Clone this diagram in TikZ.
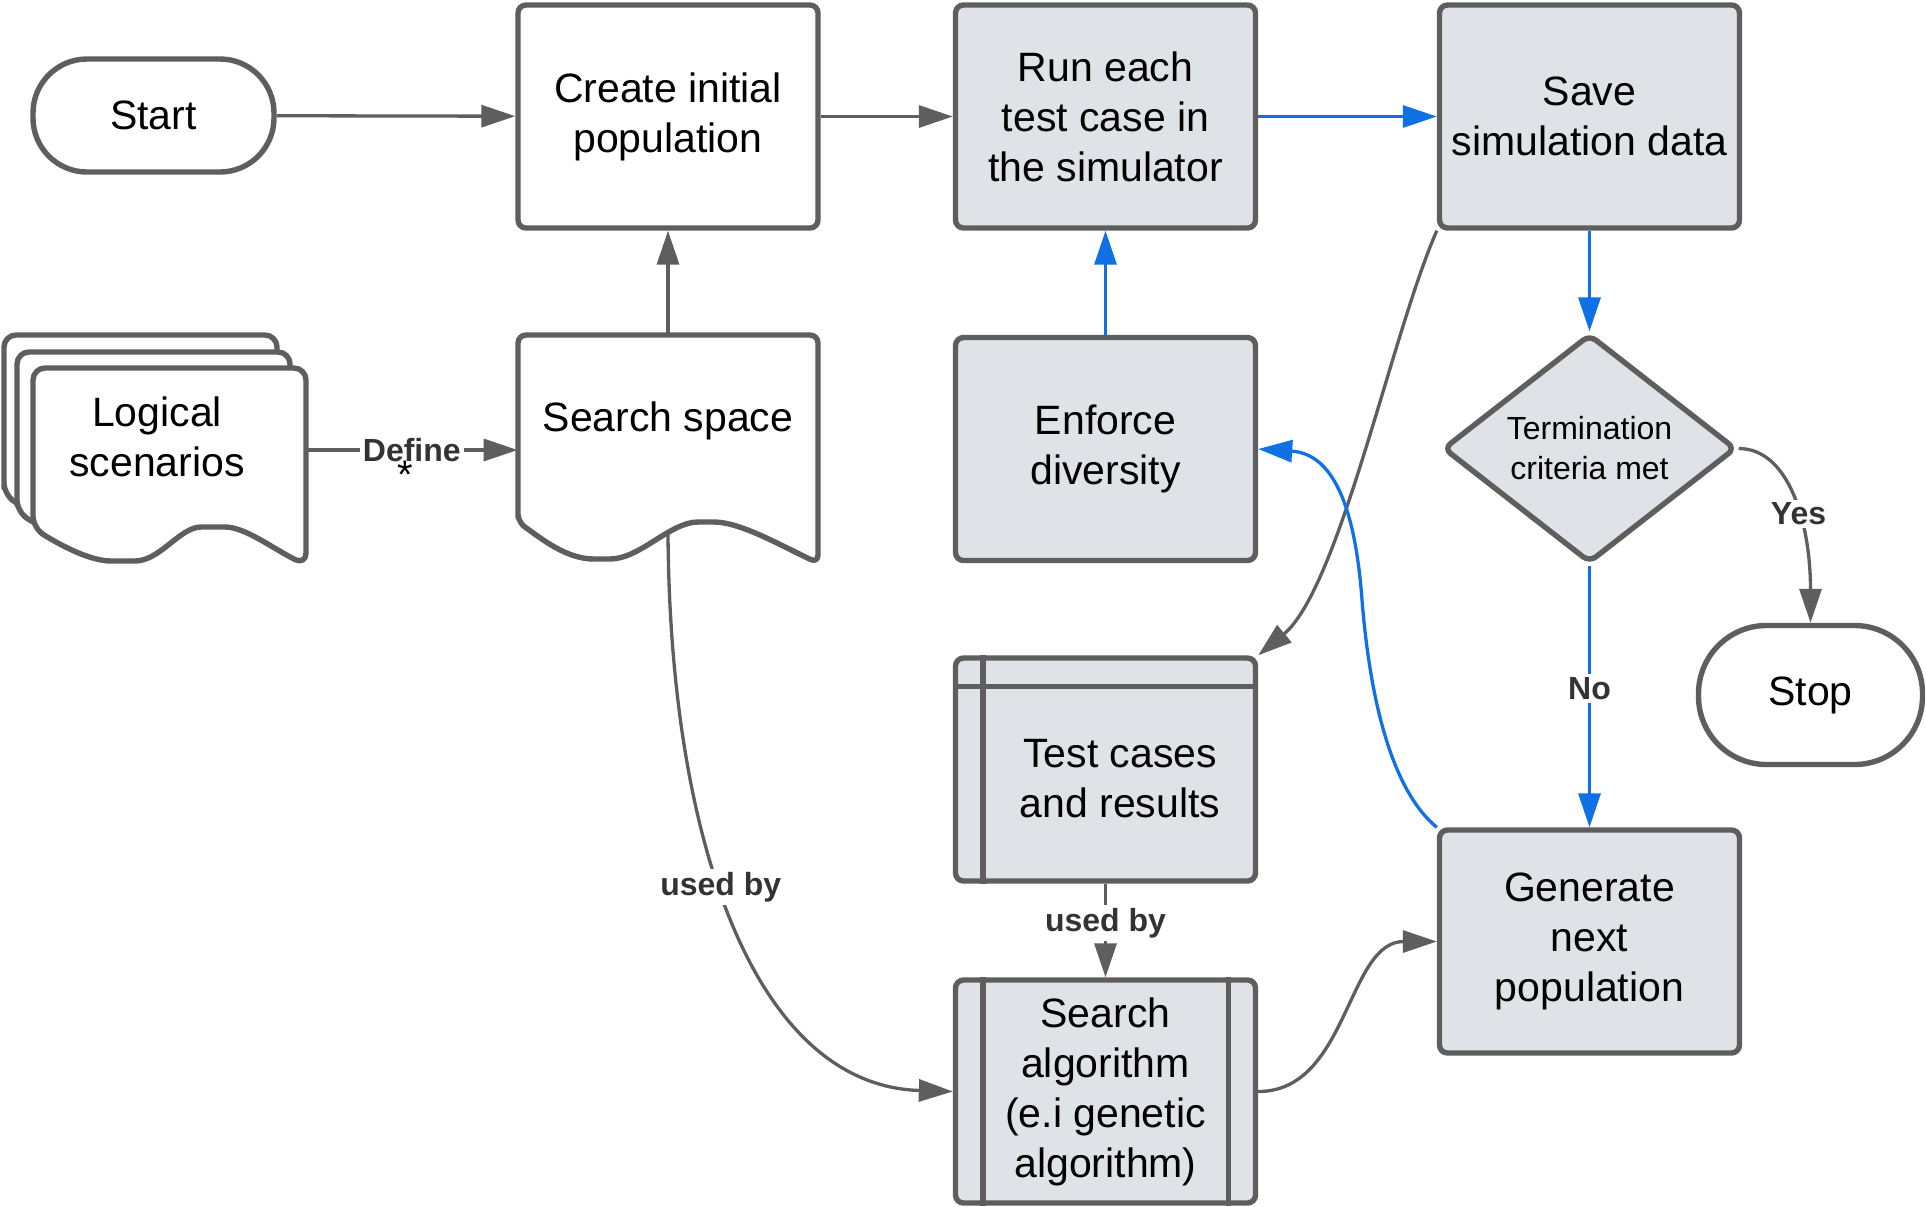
\documentclass[tikz,border=0pt]{standalone}
\usepackage{fontspec}
\setmainfont{Liberation Sans}
\usetikzlibrary{arrows.meta, shapes.geometric}

\definecolor{linegrey}{HTML}{5E5E5E}
\definecolor{boxgrey}{HTML}{DFE2E7}
\definecolor{flowblue}{HTML}{1071E5}
\definecolor{labelgrey}{HTML}{333333}

\newcommand{\bigfont}{\fontsize{20.5}{25}\selectfont}
\newcommand{\smallfont}{\fontsize{16}{20}\selectfont}

\begin{document}
\begin{tikzpicture}[x=0.5pt, y=-0.5pt, >={Triangle[length=17pt, width=11pt]},
  outline/.style={draw=linegrey, line width=2.7pt, line join=round},
  box/.style={outline, fill=white, rounded corners=4pt, minimum width=150pt, minimum height=111.5pt, align=center, font=\bigfont, inner sep=2pt},
  greybox/.style={box, fill=boxgrey},
  term/.style={outline, fill=white, rounded corners=27pt, minimum width=120.5pt, minimum height=56.5pt, font=\bigfont},
  decision/.style={outline, fill=boxgrey, diamond, rounded corners=4pt, minimum width=146.5pt, minimum height=110.5pt, inner sep=0pt, align=center, font=\smallfont},
  conn/.style={draw=linegrey, line width=1.65pt, ->},
  flow/.style={draw=flowblue, line width=1.65pt, ->},
  lbl/.style={fill=white, inner sep=1.5pt, text=labelgrey, font=\bfseries\smallfont}]
  \useasboundingbox (0,0) rectangle (1926,1206);

  % stacked logical scenarios
  \foreach \dx/\dy in {-29/-33, -16/-16, 0/0}
    \draw[outline, fill=white, rounded corners=6pt, shift={(\dx,\dy)}]
      (33,528) -- (33,368) -- (306,368) -- (306,565)
      .. controls (272,548) and (245,527) .. (213,527)
      .. controls (180,527) and (160,561) .. (123,561)
      .. controls (90,561) and (60,545) .. cycle;
  \node[font=\bigfont, align=center] (logic) at (157,437) {Logical\\scenarios};
  \coordinate (logic-e) at (306,450);

  % search space document
  \draw[outline, fill=white, rounded corners=4pt]
    (518,522) -- (518,335) -- (818,335) -- (818,563)
    .. controls (780,545) and (740,522) .. (706,522)
    .. controls (670,522) and (640,559) .. (602,559)
    .. controls (567,559) and (543,540) .. cycle;
  \node[font=\bigfont, minimum width=150pt, minimum height=86pt] (space) at (668,421) {Search space};
  \coordinate (space-w) at (668,534);

  \node[term] (start) at (153.5,115.5) {Start};
  \node[box] (create) at (668,116.5) {Create initial\\population};
  \node[greybox] (run) at (1105.5,116.5) {Run each\\test case in\\the simulator};
  \node[greybox] (save) at (1589.5,116.5) {Save\\simulation data};
  \node[greybox] (enforce) at (1105.5,449) {Enforce\\diversity};
  \node[decision] (check) at (1589.5,448.5) {Termination\\criteria met};
  \node[term, minimum width=112pt, minimum height=69.5pt, rounded corners=34pt] (stop) at (1810.5,695) {Stop};

  % storage box
  \node[greybox] (tests) at (1105.5,769.5) {};
  \draw[outline] ([xshift=15pt]tests.north west) -- ([xshift=15pt]tests.south west)
    ([yshift=-15.5pt]tests.north west) -- ([yshift=-15.5pt]tests.north east);
  \node[font=\bigfont, align=center] (tests-text) at (1120,779) {Test cases\\and results};

  % predefined process
  \node[greybox] (search) at (1105.5,1091.5) {Search\\algorithm\\(e.i genetic\\algorithm)};
  \draw[outline] ([xshift=15pt]search.north west) -- ([xshift=15pt]search.south west)
    ([xshift=-15pt]search.north east) -- ([xshift=-15pt]search.south east);

  \node[greybox] (gen) at (1589.5,941.5) {Generate\\next\\population};

  \draw[conn] (start) -- (create);
  \draw[conn] (create) -- (run);
  \draw[flow] (run) -- (save);
  \draw[conn] (space) -- (create);
  \draw[conn] (logic-e) -- node[lbl, label={[inner sep=0pt, xshift=-3.5pt, yshift=3.5pt, fill=none, text=black, font=\fontsize{20}{20}\selectfont]below:*}] {Define} (logic-e -| space.west);
  \draw[flow] (enforce) -- (run);
  \draw[flow] (save) -- (check);
  \draw[flow] (check) -- node[lbl, pos=0.47] {No} (gen);
  \draw[conn] (check.east) .. controls +(50,0) and +(0,-100) .. (stop.north) node[lbl, pos=0.58] {Yes};
  \draw[conn] (save.south west) .. controls +(-45,102) and +(81,-67) .. (tests.north east);
  \draw[flow] (gen.north west) .. controls +(-45,-37) and +(8,100) .. (1362,600)
    .. controls +(-6,-80) and +(80,5) .. (enforce.east);
  \draw[conn] (space-w) .. controls +(2,313) and +(-196,-6) .. (search.west) node[lbl, pos=0.435] {used by};
  \draw[conn] (tests) -- node[lbl, pos=0.42] {used by} (search);
  \draw[conn] (search.east) .. controls +(90,0) and +(-90,0) .. (gen.west);
\end{tikzpicture}
\end{document}
